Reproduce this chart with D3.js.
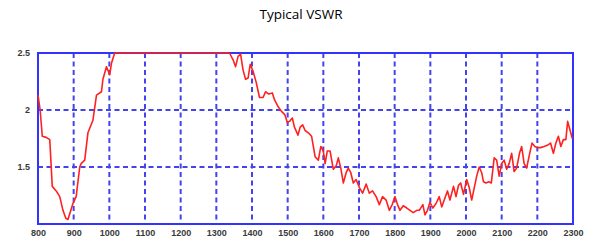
<!DOCTYPE html>
<html>
<head>
<meta charset="utf-8">
<script src="https://cdn.jsdelivr.net/npm/d3@7"></script>
<style>
  body { margin: 0; background: #fff; }
  .tick text { font-family: "Liberation Sans", Arial, sans-serif; font-weight: bold; font-size: 9px; fill: #3a3a3a; }
</style>
</head>
<body>
<div id="chart"></div>
<script>
// Chart size
var width = 602;
var height = 244;
var margin = { top: 53, right: 29, bottom: 20, left: 38 };

// Data
var freqTicks = [800, 900, 1000, 1100, 1200, 1300, 1400, 1500, 1600, 1700, 1800, 1900, 2000, 2100, 2200, 2300];
var vswrTicks = [1.5, 2, 2.5];

var freq = [800, 806, 812, 823, 833, 840, 851, 861, 870, 878, 884, 891, 898, 907, 917, 921, 931, 940, 954, 964,
  978, 982, 992, 1001, 1006, 1015, 1337, 1347, 1354, 1361, 1368, 1375, 1382, 1389, 1395, 1403, 1412, 1421, 1431,
  1438, 1447, 1457, 1463, 1473, 1482, 1492, 1499, 1505, 1513, 1519, 1529, 1535, 1542, 1549, 1558, 1567, 1577,
  1586, 1593, 1600, 1605, 1611, 1619, 1628, 1636, 1642, 1649, 1656, 1664, 1670, 1677, 1684, 1692, 1701, 1710,
  1720, 1729, 1738, 1748, 1757, 1766, 1776, 1785, 1793, 1801, 1808, 1815, 1824, 1834, 1843, 1852, 1862, 1869,
  1879, 1885, 1892, 1899, 1907, 1916, 1925, 1932, 1939, 1948, 1955, 1965, 1972, 1979, 1985, 1993, 2002, 2009,
  2016, 2022, 2030, 2037, 2044, 2049, 2056, 2064, 2071, 2079, 2086, 2093, 2100, 2107, 2114, 2121, 2128, 2135,
  2142, 2150, 2156, 2163, 2170, 2178, 2185, 2193, 2200, 2209, 2219, 2228, 2237, 2245, 2252, 2259, 2266, 2273,
  2280, 2285, 2292, 2298];
var vswr = [2.13, 2.0, 1.77, 1.76, 1.74, 1.33, 1.29, 1.24, 1.12, 1.05, 1.04, 1.11, 1.18, 1.24, 1.5, 1.53, 1.56, 1.8, 1.91, 2.13,
  2.16, 2.27, 2.38, 2.31, 2.41, 2.5, 2.5, 2.44, 2.38, 2.47, 2.49, 2.35, 2.27, 2.28, 2.4, 2.34, 2.24, 2.11, 2.11,
  2.16, 2.14, 2.15, 2.09, 2.03, 1.99, 1.96, 1.89, 1.9, 1.93, 1.85, 1.78, 1.85, 1.87, 1.82, 1.8, 1.77, 1.59,
  1.56, 1.68, 1.64, 1.53, 1.64, 1.64, 1.48, 1.51, 1.58, 1.49, 1.36, 1.45, 1.49, 1.45, 1.36, 1.39, 1.32, 1.27,
  1.35, 1.27, 1.29, 1.24, 1.17, 1.24, 1.21, 1.12, 1.17, 1.24, 1.17, 1.12, 1.16, 1.14, 1.12, 1.1, 1.12, 1.12,
  1.17, 1.08, 1.12, 1.19, 1.14, 1.18, 1.24, 1.15, 1.21, 1.29, 1.21, 1.33, 1.24, 1.34, 1.36, 1.26, 1.39, 1.32,
  1.21, 1.3, 1.42, 1.5, 1.45, 1.37, 1.36, 1.37, 1.36, 1.58, 1.56, 1.42, 1.53, 1.56, 1.48, 1.53, 1.62, 1.46,
  1.49, 1.62, 1.68, 1.53, 1.49, 1.61, 1.71, 1.68, 1.67, 1.67, 1.68, 1.69, 1.71, 1.62, 1.71, 1.77, 1.68, 1.74,
  1.74, 1.9, 1.82, 1.75];

var points = freq.map(function (f, i) { return [f, vswr[i]]; });

var svg = d3.select("#chart").append("svg")
  .attr("width", width)
  .attr("height", height);

// Title
svg.append("text")
  .attr("x", 301)
  .attr("y", 19)
  .attr("text-anchor", "middle")
  .style("font-family", "'Open Sans', sans-serif")
  .style("font-size", "13.5px")
  .style("fill", "#000")
  .text("Typical VSWR");

var x = d3.scaleLinear().domain([800, 2300]).range([margin.left, width - margin.right]);
var y = d3.scaleLinear().domain([1, 2.5]).range([height - margin.bottom, margin.top]);

// Dashed grid
svg.append("g").selectAll("line")
  .data(freqTicks.slice(1, -1))
  .join("line")
  .attr("x1", d => x(d)).attr("x2", d => x(d))
  .attr("y1", y(2.5)).attr("y2", y(1))
  .attr("stroke", "#4444ee")
  .attr("stroke-width", 2)
  .attr("stroke-dasharray", "5,3.5");

svg.append("g").selectAll("line")
  .data(vswrTicks.slice(0, -1))
  .join("line")
  .attr("x1", x(800)).attr("x2", x(2300))
  .attr("y1", d => y(d)).attr("y2", d => y(d))
  .attr("stroke", "#4444ee")
  .attr("stroke-width", 2)
  .attr("stroke-dasharray", "5,3.5");

// Box
svg.append("rect")
  .attr("x", x(800)).attr("y", y(2.5))
  .attr("width", x(2300) - x(800))
  .attr("height", y(1) - y(2.5))
  .attr("fill", "none")
  .attr("stroke", "#3333ff")
  .attr("stroke-width", 2);

// Axes labels
var xAxis = svg.append("g")
  .attr("transform", "translate(0," + (height - margin.bottom) + ")")
  .call(d3.axisBottom(x).tickValues(freqTicks).tickSize(0).tickPadding(6).tickFormat(d3.format("d")));
xAxis.select(".domain").remove();

var yAxis = svg.append("g")
  .attr("transform", "translate(" + margin.left + ",0)")
  .call(d3.axisLeft(y).tickValues(vswrTicks).tickSize(0).tickPadding(8).tickFormat(d => d));
yAxis.select(".domain").remove();

// Curve
svg.append("path")
  .datum(points)
  .attr("d", d3.line().x(d => x(d[0])).y(d => y(Math.min(d[1], 2.5))))
  .attr("fill", "none")
  .attr("stroke", "#ff2020")
  .attr("stroke-width", 1.6)
  .attr("stroke-linejoin", "round");
</script>
</body>
</html>
